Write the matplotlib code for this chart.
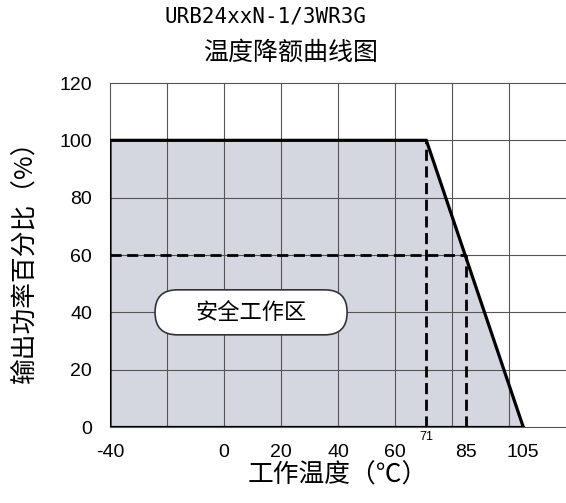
#温度降额曲线图
import matplotlib.pyplot as plt
from matplotlib.patches import FancyBboxPatch
import numpy as np

plt.rcParams['font.family'] = ['Noto Sans CJK SC', 'DejaVu Sans']

# 降额曲线
temp = [-40, -40, 71, 105]
power = [0, 100, 100, 0]

# 虚线
v71_x = [71, 71]
v71_y = [0, 100]
h60_x = [-40, 85]
h60_y = [60, 60]
v85_x = [85, 85]
v85_y = [0, 60]

xticks = [-40, 0, 20, 40, 60, 85, 105]
yticks = [0, 20, 40, 60, 80, 100, 120]
grid_x = np.arange(-20, 101, 20)

fig = plt.figure(figsize=(5.66, 5.03), dpi=100)
ax = fig.add_axes([110/566, 1-427/503, 1-110/566, (427-83)/503])

ax.fill(temp, power, color='#d4d7df', zorder=1)
ax.plot(temp, power, c='k', lw=2.3, zorder=4, solid_joinstyle='miter')
ax.plot([-40, 105], [0, 0], c='k', lw=2.3, zorder=4)
for xs, ys in [(v71_x, v71_y), (h60_x, h60_y), (v85_x, v85_y)]:
    ax.plot(xs, ys, c='k', lw=2.0, dashes=(4, 2), zorder=3)

# 网格
for gx in grid_x:
    ax.axvline(gx, color='#555555', lw=0.8, zorder=2)
for gy in yticks[1:-1]:
    ax.axhline(gy, color='#555555', lw=0.8, zorder=2)

ax.set_xlim(-40, 120)
ax.set_ylim(0, 120)
ax.set_xticks(xticks)
ax.set_xticklabels([str(t) for t in xticks], family='Liberation Sans', fontsize=14)
ax.set_yticks(yticks)
ax.set_yticklabels([str(t) for t in yticks], family='Liberation Sans', fontsize=14)
ax.tick_params(axis='both', which='both', length=0)
ax.tick_params(axis='x', pad=12)
ax.tick_params(axis='y', pad=13)
for s in ['top', 'left', 'bottom']:
    ax.spines[s].set_color('#555555')
    ax.spines[s].set_linewidth(0.8)
ax.spines['right'].set_visible(False)

ax.text(71, -1.5, '71', fontsize=9, family='Liberation Sans', ha='center', va='top', zorder=5)

box = FancyBboxPatch((9.5 - 33.7, 40 - 7.85), 67.4, 15.7,
                     boxstyle='round,pad=0,rounding_size=7.8',
                     fc='white', ec='#333333', lw=1.2, zorder=5)
ax.add_patch(box)
ax.text(9.5, 40, '安全工作区', fontsize=16, ha='center', va='center', zorder=6)

ax.set_xlabel('工作温度（℃）', fontsize=18.5, labelpad=1)
ax.set_ylabel('输出功率百分比（%）', fontsize=18.5, labelpad=16)

fig.text(265/566, 1-17/503, 'URB24xxN-1/3WR3G', family='DejaVu Sans Mono',
         fontsize=15, ha='center', va='center')
fig.text(291/566, 1-53/503, '温度降额曲线图', fontsize=18, ha='center', va='center')

fig.savefig('out.png', dpi=100)
